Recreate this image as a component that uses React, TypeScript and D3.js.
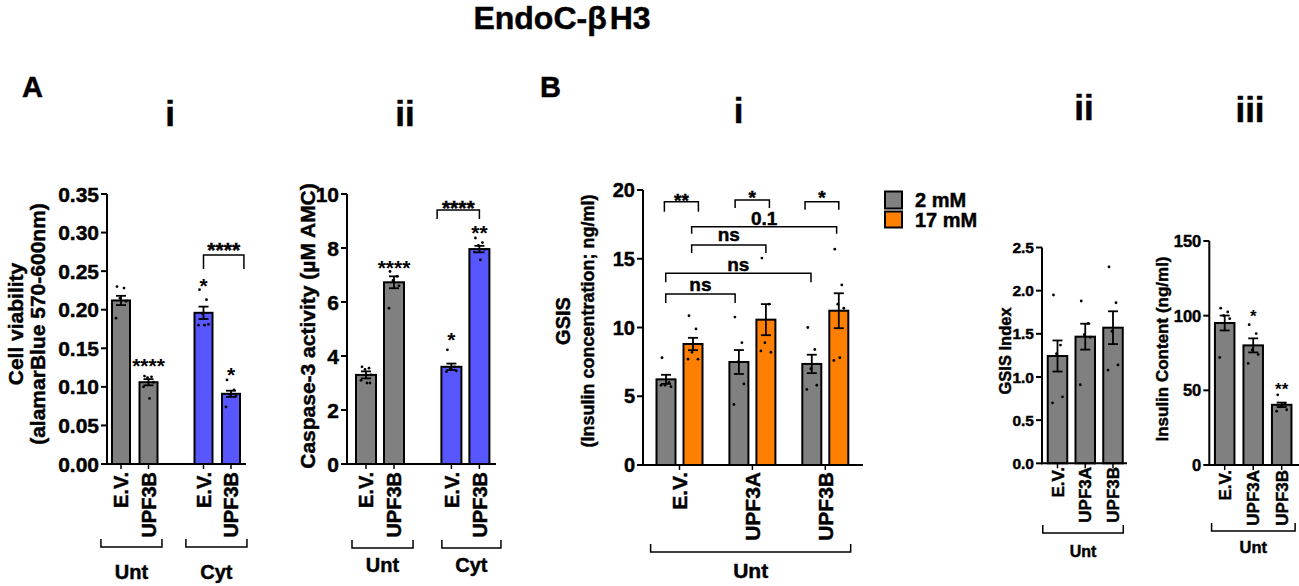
import React from "react";
import * as d3 from "d3";

const FONT = "'Liberation Sans', Arial, Helvetica, sans-serif";
const GRAY = "#808080";
const BLUE = "#5757fd";
const ORANGE = "#ff8000";

// ---------- Panel A i : Cell viability ----------
const aiCategories = ["E.V.", "UPF3B", "E.V.", "UPF3B"];
const aiGroups = ["Unt", "Cyt"];
const aiMeans = [0.212, 0.106, 0.196, 0.091];
const aiSEM = [0.006, 0.004, 0.008, 0.004];
const aiPoints = [
  [0.23, 0.228, 0.215, 0.211, 0.189],
  [0.114, 0.113, 0.112, 0.106, 0.1, 0.085],
  [0.226, 0.213, 0.195, 0.181, 0.18, 0.18],
  [0.109, 0.096, 0.09, 0.088, 0.074],
];
const aiStars = ["", "****", "*", "*"];
const aiStarValues = [0, 0.1326, 0.2363, 0.1212];
const aiTicks = [0, 0.05, 0.1, 0.15, 0.2, 0.25, 0.3, 0.35];

// ---------- Panel A ii : Caspase-3 ----------
const aiiCategories = ["E.V.", "UPF3B", "E.V.", "UPF3B"];
const aiiGroups = ["Unt", "Cyt"];
const aiiMeans = [3.3, 6.73, 3.6, 7.96];
const aiiSEM = [0.13, 0.22, 0.12, 0.12];
const aiiPoints = [
  [3.6, 3.55, 3.5, 3.3, 3.1, 3.0, 3.0],
  [7.13, 6.95, 6.8, 6.6, 5.77],
  [4.23, 3.6, 3.55, 3.45, 3.42],
  [8.37, 8.2, 8.1, 7.95, 7.85, 7.56],
];
const aiiStars = ["", "****", "*", "**"];
const aiiStarValues = [0, 7.44, 4.78, 8.73];
const aiiTicks = [0, 2, 4, 6, 8, 10];

// ---------- Panel B i : GSIS ----------
const biCategories = ["E.V.", "UPF3A", "UPF3B"];
const biSeries = ["2 mM", "17 mM"];
const biMeans2 = [6.23, 7.49, 7.35];
const biMeans17 = [8.8, 10.57, 11.22];
const biSEM2 = [0.33, 0.87, 0.67];
const biSEM17 = [0.45, 1.13, 1.27];
const biPoints2 = [
  [7.8, 6.0, 5.8, 5.7, 5.8],
  [10.76, 8.9, 7.5, 5.9, 4.4],
  [10.0, 8.4, 7.0, 5.8, 5.5],
];
const biPoints17 = [
  [10.86, 9.9, 8.2, 7.7, 7.7],
  [15.05, 11.7, 8.9, 8.2, 8.3],
  [15.7, 13.1, 11.7, 11.4, 7.6, 7.8],
];
const biTicks = [0, 5, 10, 15, 20];
const biCompLabels = ["**", "*", "*", "0.1", "ns", "ns", "ns"];
const biCompValues = [19.15, 19.27, 19.15, 17.33, 16.0, 13.94, 12.44];
const biCompLabelValues = [19.53, 19.76, 19.76, 17.94, 16.65, 14.47, 13.02];

// ---------- Panel B ii : GSIS Index ----------
const biiCategories = ["E.V.", "UPF3A", "UPF3B"];
const biiMeans = [1.243, 1.467, 1.571];
const biiSEM = [0.18, 0.15, 0.19];
const biiPoints = [
  [1.95, 1.37, 1.27, 0.77, 0.7],
  [1.88, 1.62, 1.49, 1.46, 0.91],
  [2.275, 1.86, 1.53, 1.14, 1.08],
];
const biiTicks = [0, 0.5, 1.0, 1.5, 2.0, 2.5];

// ---------- Panel B iii : Insulin content ----------
const biiiCategories = ["E.V.", "UPF3A", "UPF3B"];
const biiiMeans = [95.1, 80.1, 40.3];
const biiiSEM = [5.0, 4.7, 1.5];
const biiiPoints = [
  [105, 102.5, 100, 98, 72],
  [94, 88, 77, 74, 68],
  [47, 41, 39, 37, 36],
];
const biiiStars = ["", "*", "**"];
const biiiStarValues = [0, 101.8, 53.2];
const biiiTicks = [0, 50, 100, 150];

// ---------- helpers ----------
const JITTER = [-4, 3, -1, 5, -5, 1, 4];
const TEXT_STROKE = 0.45;

function baselineShift(text: string, fs: number) {
  if (/^\*+$/.test(text)) return 0.56 * fs;
  if (/^[a-z]+$/.test(text)) return 0.27 * fs;
  return 0.36 * fs;
}

type Bar = { slot: number; mean: number; sem: number; points: number[]; fill: string; star?: string; starValue?: number };
type Bracket = { s1: number; s2: number; value: number; drop: number; label: string; labelValue: number };
type Group = { label: string; s1: number; s2: number };

type PanelProps = {
  axisX: number;
  xEnd: number;
  yTop: number;
  yBottom: number;
  domain: [number, number];
  ticks: number[];
  fmt: (v: number) => string;
  tickFont: number;
  slot0: number;
  slotUnit: number;
  barWidth: number;
  bars: Bar[];
  catSlots: number[];
  categories: string[];
  catFont: number;
  catTop: number;
  starFont: number;
  brackets: Bracket[];
  bracketFont: number;
  groups: Group[];
  groupLineY: number;
  groupLabelY: number;
  groupFont: number;
  yLabels: { text: string; x: number; font: number }[];
  yLabelCy: number;
};

function Panel(p: PanelProps) {
  const y = d3.scaleLinear().domain(p.domain).range([p.yBottom, p.yTop]);
  const x = d3.scaleLinear().domain([0, 1]).range([p.slot0, p.slot0 + p.slotUnit]);
  const bw = p.barWidth;
  return (
    <g fontFamily={FONT} fontWeight="bold">
      {/* bars */}
      {p.bars.map((b, i) => {
        const cx = x(b.slot);
        return (
          <g key={"b" + i}>
            <rect x={cx - bw / 2} y={y(b.mean)} width={bw} height={y(0) - y(b.mean)} fill={b.fill} stroke="#000" strokeWidth={2} />
            <line x1={cx} x2={cx} y1={y(b.mean - b.sem)} y2={y(b.mean + b.sem)} stroke="#000" strokeWidth={1.8} />
            <line x1={cx - 5} x2={cx + 5} y1={y(b.mean + b.sem)} y2={y(b.mean + b.sem)} stroke="#000" strokeWidth={1.8} />
            <line x1={cx - 5} x2={cx + 5} y1={y(b.mean - b.sem)} y2={y(b.mean - b.sem)} stroke="#000" strokeWidth={1.8} />
            {b.points.map((v, j) => (
              <circle key={j} cx={cx + JITTER[j % JITTER.length]} cy={y(v)} r={1.4} fill="#000" />
            ))}
            {b.star ? (
              <text x={cx} y={y(b.starValue!) + baselineShift(b.star, p.starFont)} fontSize={p.starFont} textAnchor="middle">
                {b.star}
              </text>
            ) : null}
          </g>
        );
      })}
      {/* axes */}
      <line x1={p.axisX} x2={p.axisX} y1={p.yTop} y2={p.yBottom + 1} stroke="#000" strokeWidth={2} />
      <line x1={p.axisX - 1} x2={p.xEnd} y1={p.yBottom} y2={p.yBottom} stroke="#000" strokeWidth={2} />
      <g stroke="#000" strokeWidth={TEXT_STROKE}>
        {p.ticks.map((t, i) => (
          <g key={"t" + i}>
            <line x1={p.axisX - 6} x2={p.axisX} y1={y(t)} y2={y(t)} stroke="#000" strokeWidth={2} />
            <text x={p.axisX - 8} y={y(t) + 0.36 * p.tickFont} fontSize={p.tickFont} textAnchor="end">
              {p.fmt(t)}
            </text>
          </g>
        ))}
        {p.catSlots.map((s, i) => (
          <g key={"c" + i}>
            <line x1={x(s)} x2={x(s)} y1={p.yBottom} y2={p.yBottom + 5} stroke="#000" strokeWidth={1.5} />
            <text transform={`translate(${x(s)},${p.catTop}) rotate(-90)`} fontSize={p.catFont} textAnchor="end" dy="0.36em">
              {p.categories[i]}
            </text>
          </g>
        ))}
      </g>
      {/* significance brackets */}
      {p.brackets.map((br, i) => {
        const x1 = x(br.s1);
        const x2 = x(br.s2);
        const yy = y(br.value);
        return (
          <g key={"br" + i}>
            <path d={`M${x1},${yy + br.drop}V${yy}H${x2}V${yy + br.drop}`} fill="none" stroke="#000" strokeWidth={1.5} />
            <text x={(x1 + x2) / 2} y={y(br.labelValue) + baselineShift(br.label, p.bracketFont)} fontSize={p.bracketFont} textAnchor="middle" stroke="#000" strokeWidth={TEXT_STROKE}>
              {br.label}
            </text>
          </g>
        );
      })}
      {/* group brackets */}
      {p.groups.map((g, i) => {
        const x1 = x(g.s1);
        const x2 = x(g.s2);
        return (
          <g key={"g" + i}>
            <path d={`M${x1},${p.groupLineY - 8}V${p.groupLineY}H${x2}V${p.groupLineY - 8}`} fill="none" stroke="#000" strokeWidth={1.5} />
            <text x={(x1 + x2) / 2} y={p.groupLabelY} fontSize={p.groupFont} textAnchor="middle" stroke="#000" strokeWidth={TEXT_STROKE}>
              {g.label}
            </text>
          </g>
        );
      })}
      {/* y labels */}
      {p.yLabels.map((l, i) => (
        <text key={"yl" + i} transform={`translate(${l.x},${p.yLabelCy}) rotate(-90)`} fontSize={l.font} textAnchor="middle" dy="0.36em" stroke="#000" strokeWidth={TEXT_STROKE}>
          {l.text}
        </text>
      ))}
    </g>
  );
}

export default function App() {
  const fmt2 = d3.format(".2f");
  const fmt1 = d3.format(".1f");
  const fmt0 = d3.format("d");

  const aiSlots = [0, 1, 3, 4];
  const aiFills = [GRAY, GRAY, BLUE, BLUE];
  const aiBars: Bar[] = aiMeans.map((m, i) => ({
    slot: aiSlots[i], mean: m, sem: aiSEM[i], points: aiPoints[i], fill: aiFills[i],
    star: aiStars[i], starValue: aiStarValues[i],
  }));

  const aiiSlots = [0, 1, 3.05, 4.05];
  const aiiBars: Bar[] = aiiMeans.map((m, i) => ({
    slot: aiiSlots[i], mean: m, sem: aiiSEM[i], points: aiiPoints[i], fill: aiFills[i],
    star: aiiStars[i], starValue: aiiStarValues[i],
  }));

  const biGroupSlots = [0, 2.7, 5.4];
  const biBars: Bar[] = [];
  biCategories.forEach((_, i) => {
    biBars.push({ slot: biGroupSlots[i], mean: biMeans2[i], sem: biSEM2[i], points: biPoints2[i], fill: GRAY });
    biBars.push({ slot: biGroupSlots[i] + 1, mean: biMeans17[i], sem: biSEM17[i], points: biPoints17[i], fill: ORANGE });
  });
  const biBracketSlots: [number, number, number][] = [
    [-0.06, 1.2, 10],
    [2.56, 3.83, 8],
    [5.15, 6.4, 8],
    [0.95, 6.32, 7],
    [0.95, 3.7, 8],
    [-0.01, 5.37, 9],
    [-0.01, 2.56, 9],
  ];
  const biBrackets: Bracket[] = biCompLabels.map((l, i) => ({
    s1: biBracketSlots[i][0], s2: biBracketSlots[i][1], drop: biBracketSlots[i][2],
    value: biCompValues[i], label: l, labelValue: biCompLabelValues[i],
  }));

  const biiBars: Bar[] = biiMeans.map((m, i) => ({ slot: i, mean: m, sem: biiSEM[i], points: biiPoints[i], fill: GRAY }));
  const biiiBars: Bar[] = biiiMeans.map((m, i) => ({
    slot: i, mean: m, sem: biiiSEM[i], points: biiiPoints[i], fill: GRAY, star: biiiStars[i], starValue: biiiStarValues[i],
  }));

  return (
    <svg width={1299} height={586} style={{ position: "absolute", left: 0, top: 0, background: "#fff" }}>
      <rect x={0} y={0} width={1299} height={586} fill="#fff" />
      <g fontFamily={FONT} fontWeight="bold" stroke="#000" strokeWidth={TEXT_STROKE}>
        <text x={562} y={29} fontSize={32} textAnchor="middle">
          EndoC-β<tspan dx={3}>H3</tspan>
        </text>
        <text x={22} y={97} fontSize={29}>A</text>
        <text x={540} y={97} fontSize={29}>B</text>
        <text x={170} y={126} fontSize={35} textAnchor="middle">i</text>
        <text x={405} y={126} fontSize={35} textAnchor="middle">ii</text>
        <text x={738.5} y={123} fontSize={35} textAnchor="middle">i</text>
        <text x={1084} y={120} fontSize={35} textAnchor="middle">ii</text>
        <text x={1250} y={122} fontSize={35} textAnchor="middle">iii</text>
        {/* legend */}
        <rect x={885} y={191.5} width={17} height={17} fill={GRAY} stroke="#000" strokeWidth={2} />
        <rect x={885} y={211.5} width={17} height={16} fill={ORANGE} stroke="#000" strokeWidth={2} />
        <text x={915} y={207} fontSize={20}>{biSeries[0]}</text>
        <text x={915} y={227} fontSize={20}>{biSeries[1]}</text>
      </g>

      <Panel
        axisX={107} xEnd={246} yTop={194} yBottom={464} domain={[0, 0.35]} ticks={aiTicks} fmt={fmt2} tickFont={21}
        slot0={121} slotUnit={27.5} barWidth={18} bars={aiBars}
        catSlots={aiSlots} categories={aiCategories} catFont={20} catTop={472}
        starFont={21}
        brackets={[{ s1: 3, s2: 4.47, value: 0.271, drop: 14, label: "****", labelValue: 0.2839 }]}
        bracketFont={21}
        groups={[{ label: aiGroups[0], s1: -0.73, s2: 1.49 }, { label: aiGroups[1], s1: 2.36, s2: 4.58 }]}
        groupLineY={547} groupLabelY={579} groupFont={20}
        yLabels={[{ text: "Cell viability", x: 15, font: 21 }, { text: "(alamarBlue 570-600nm)", x: 37, font: 21 }]}
        yLabelCy={324}
      />

      <Panel
        axisX={347} xEnd={496} yTop={194} yBottom={464} domain={[0, 10]} ticks={aiiTicks} fmt={fmt0} tickFont={21}
        slot0={366} slotUnit={28} barWidth={20} bars={aiiBars}
        catSlots={aiiSlots} categories={aiiCategories} catFont={20} catTop={472}
        starFont={21}
        brackets={[{ s1: 2.54, s2: 4.05, value: 9.41, drop: 9, label: "****", labelValue: 9.66 }]}
        bracketFont={21}
        groups={[{ label: aiiGroups[0], s1: -0.5, s2: 1.68 }, { label: aiiGroups[1], s1: 2.71, s2: 4.82 }]}
        groupLineY={548} groupLabelY={572} groupFont={20}
        yLabels={[{ text: "Caspase-3 activity (µM AMC)", x: 307, font: 21 }]}
        yLabelCy={326}
      />

      <Panel
        axisX={643} xEnd={863} yTop={190} yBottom={465} domain={[0, 20]} ticks={biTicks} fmt={fmt0} tickFont={20}
        slot0={666} slotUnit={27} barWidth={19} bars={biBars}
        catSlots={biGroupSlots.map((s) => s + 0.5)} categories={biCategories} catFont={21} catTop={472}
        starFont={20}
        brackets={biBrackets}
        bracketFont={19}
        groups={[{ label: "Unt", s1: -0.57, s2: 6.84 }]}
        groupLineY={552} groupLabelY={578} groupFont={21}
        yLabels={[{ text: "GSIS", x: 563, font: 20 }, { text: "(Insulin concentration; ng/ml)", x: 588, font: 18 }]}
        yLabelCy={321}
      />

      <Panel
        axisX={1042} xEnd={1127} yTop={247.5} yBottom={463.3} domain={[0, 2.5]} ticks={biiTicks} fmt={fmt1} tickFont={15.5}
        slot0={1057.5} slotUnit={27.75} barWidth={19.5} bars={biiBars}
        catSlots={[0, 1, 2]} categories={biiCategories} catFont={17} catTop={467}
        starFont={16}
        brackets={[]}
        bracketFont={16}
        groups={[{ label: "Unt", s1: -0.53, s2: 2.37 }]}
        groupLineY={533} groupLabelY={557} groupFont={16}
        yLabels={[{ text: "GSIS Index", x: 1005, font: 16.5 }]}
        yLabelCy={351}
      />

      <Panel
        axisX={1209.3} xEnd={1299} yTop={241} yBottom={465} domain={[0, 150]} ticks={biiiTicks} fmt={fmt0} tickFont={16.5}
        slot0={1224.7} slotUnit={28.5} barWidth={19.5} bars={biiiBars}
        catSlots={[0, 1, 2]} categories={biiiCategories} catFont={17} catTop={470}
        starFont={17}
        brackets={[]}
        bracketFont={16}
        groups={[{ label: "Unt", s1: -0.46, s2: 2.47 }]}
        groupLineY={531} groupLabelY={553} groupFont={16.5}
        yLabels={[{ text: "Insulin Content (ng/ml)", x: 1162, font: 17 }]}
        yLabelCy={349}
      />
    </svg>
  );
}
